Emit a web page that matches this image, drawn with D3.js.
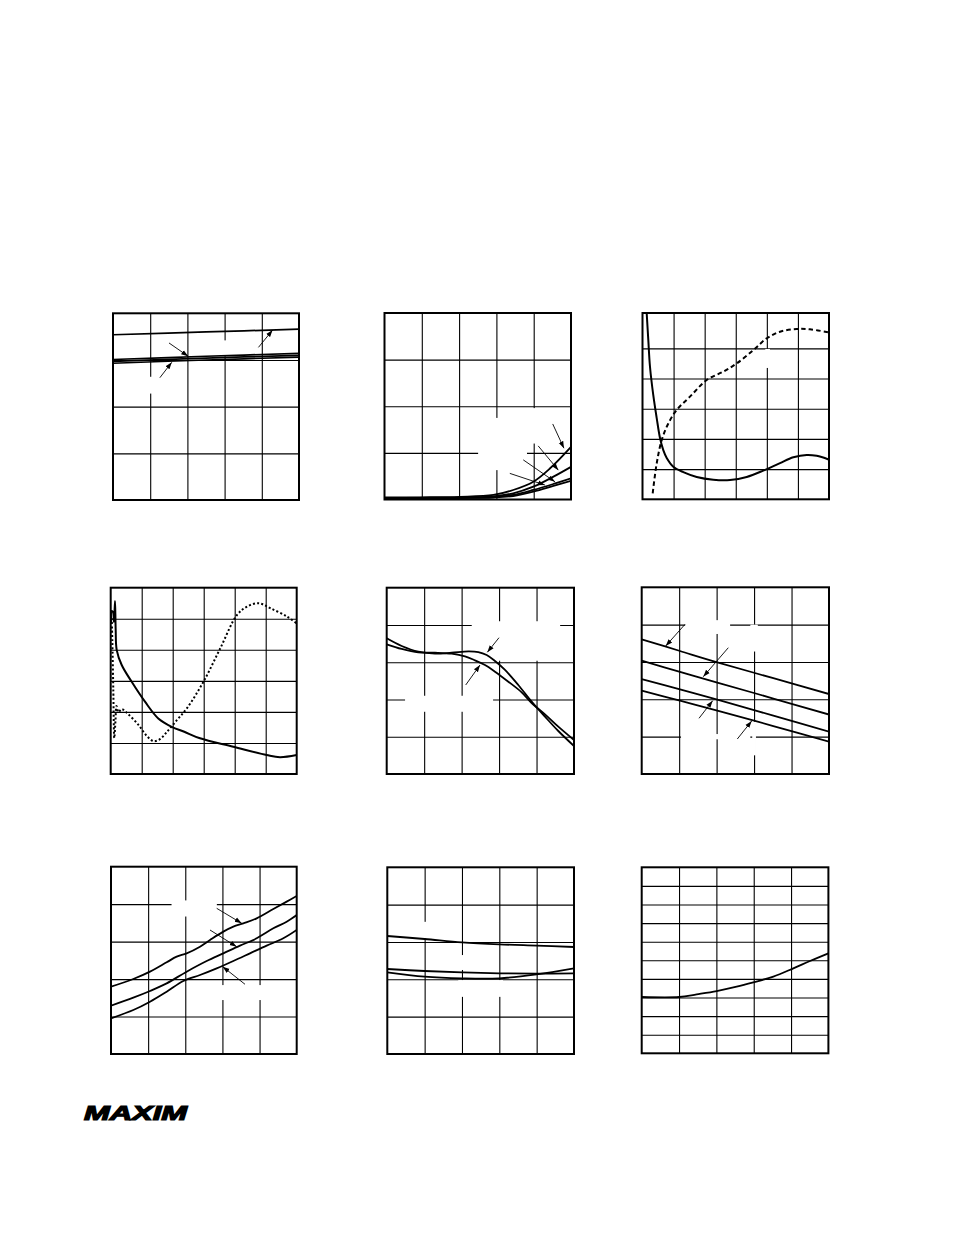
<!DOCTYPE html>
<html>
<head>
<meta charset="utf-8">
<script src="https://cdn.jsdelivr.net/npm/d3@7"></script>
<style>
  html, body { margin: 0; padding: 0; background: #fff; }
  svg { display: block; }
</style>
</head>
<body>
<svg id="page" width="954" height="1235"></svg>
<script>
// ---------- DATA (grid units: x = column index, y = row index from bottom) ----------
// Panel 1
const p1Top = [[0, 3.54], [2.5, 3.60], [5, 3.66]];
const p1A   = [[0, 3.01], [2.5, 3.08], [5, 3.14]];
const p1B   = [[0, 2.97], [2.5, 3.04], [5, 3.10]];
const p1C   = [[0, 2.93], [2.5, 3.00], [5, 3.06]];
const p1Arrows = [[[1.505, 3.365], [2.02, 3.08]], [[1.26, 2.62], [1.58, 2.95]], [[3.91, 3.27], [4.29, 3.64]]];

// Panel 2
const p2S1 = [[0, 0.043], [0.95, 0.047], [2.02, 0.058], [2.92, 0.097], [3.45, 0.204], [3.99, 0.382], [4.44, 0.67], [5.0, 1.13]];
const p2S2 = [[0, 0.036], [2.02, 0.043], [2.92, 0.069], [3.45, 0.133], [3.99, 0.275], [4.53, 0.49], [5.0, 0.70]];
const p2S3 = [[0, 0.032], [2.02, 0.036], [2.92, 0.054], [3.45, 0.097], [3.99, 0.204], [4.53, 0.333], [5.0, 0.455]];
const p2S4 = [[0, 0.028], [2.02, 0.032], [2.92, 0.043], [3.45, 0.075], [3.99, 0.167], [4.53, 0.29], [5.0, 0.40]];
const p2Arrows = [[[4.51, 1.62], [4.81, 1.10]], [[4.12, 1.15], [4.66, 0.63]], [[3.72, 0.85], [4.57, 0.38]], [[3.36, 0.56], [4.30, 0.31]]];

// Panel 3
const p3Solid = [[0.135, 6.16], [0.187, 5.27], [0.241, 4.39], [0.347, 3.45], [0.457, 2.69], [0.563, 2.03], [0.669, 1.63], [0.779, 1.37], [0.991, 1.08], [1.313, 0.90], [1.744, 0.74], [2.278, 0.65], [2.815, 0.64], [3.353, 0.74], [3.887, 0.95], [4.424, 1.20], [4.852, 1.39], [5.283, 1.47], [5.605, 1.44], [5.985, 1.32]];
const p3Dashed = [[0.328, 0.20], [0.457, 1.19], [0.618, 1.96], [0.830, 2.51], [1.100, 2.96], [1.528, 3.40], [2.066, 3.95], [2.600, 4.23], [3.031, 4.50], [3.565, 4.94], [3.996, 5.33], [4.424, 5.55], [4.961, 5.64], [5.389, 5.63], [5.985, 5.53]];

// Panel 4
const p4Solid = [[0.016, 4.83], [0.032, 5.25], [0.074, 5.22], [0.106, 4.90], [0.139, 5.57], [0.161, 4.64], [0.194, 3.99], [0.355, 3.51], [0.677, 2.97], [1.106, 2.33], [1.535, 1.79], [1.968, 1.52], [2.374, 1.36], [2.881, 1.15], [3.955, 0.88], [5.032, 0.61], [5.461, 0.54], [6.0, 0.61]];
const p4Dotted = [[0.032, 5.02], [0.052, 4.31], [0.084, 2.71], [0.116, 1.16], [0.155, 1.74], [0.187, 2.19], [0.252, 1.99], [0.355, 2.09], [0.561, 1.93], [0.897, 1.58], [1.168, 1.22], [1.384, 1.06], [1.6, 1.13], [1.816, 1.36], [2.139, 1.74], [2.461, 2.12], [2.997, 2.98], [3.535, 4.05], [4.074, 5.12], [4.397, 5.39], [4.771, 5.50], [5.148, 5.34], [5.687, 5.07], [6.0, 4.85]];

// Panel 5
const p5A = [[0, 3.641], [0.40, 3.435], [0.844, 3.283], [1.289, 3.230], [1.734, 3.256], [2.179, 3.292], [2.446, 3.274], [2.669, 3.194], [2.891, 3.033], [3.158, 2.792], [3.513, 2.389], [3.870, 1.942], [4.226, 1.539], [4.581, 1.154], [5.0, 0.751]];
const p5B = [[0, 3.480], [0.40, 3.355], [0.844, 3.265], [1.289, 3.256], [1.734, 3.229], [2.090, 3.158], [2.357, 3.051], [2.624, 2.925], [2.891, 2.747], [3.247, 2.478], [3.603, 2.192], [3.870, 1.906], [4.226, 1.601], [4.581, 1.270], [5.0, 0.912]];
const p5Arrows = [[[2.998, 3.658], [2.686, 3.266]], [[2.109, 2.389], [2.491, 2.925]]];

// Panel 6
const p6L1 = [[0, 3.607], [1.022, 3.294], [2.019, 2.990], [3.514, 2.566], [5.0, 2.142]];
const p6L2 = [[0, 3.035], [1.022, 2.736], [2.019, 2.450], [3.514, 2.021], [5.0, 1.592]];
const p6L3 = [[0, 2.544], [1.022, 2.267], [2.019, 1.990], [3.514, 1.562], [5.0, 1.133]];
const p6L4 = [[0, 2.232], [1.022, 1.964], [2.019, 1.696], [3.514, 1.285], [5.0, 0.866]];
const p6Arrows = [[[1.156, 4.009], [0.641, 3.428]], [[2.312, 3.382], [1.644, 2.606]], [[1.530, 1.492], [1.895, 1.963]], [[2.552, 0.937], [2.936, 1.419]]];

// Panel 7
const p7L1 = [[0, 1.797], [0.601, 2.002], [1.050, 2.198], [1.499, 2.447], [1.768, 2.598], [2.037, 2.687], [2.396, 2.865], [2.666, 3.043], [3.025, 3.266], [3.294, 3.399], [3.563, 3.488], [3.922, 3.622], [4.371, 3.871], [4.730, 4.067], [5.0, 4.218]];
const p7L2 = [[0, 1.290], [0.601, 1.503], [1.050, 1.681], [1.499, 1.886], [2.037, 2.198], [2.576, 2.482], [3.025, 2.687], [3.473, 2.892], [3.922, 3.088], [4.371, 3.355], [4.730, 3.533], [5.0, 3.711]];
const p7L3 = [[0, 0.952], [0.601, 1.175], [1.050, 1.397], [1.499, 1.664], [1.948, 1.949], [2.396, 2.109], [2.845, 2.287], [3.294, 2.482], [3.743, 2.687], [4.191, 2.892], [4.640, 3.088], [5.0, 3.311]];
const p7Arrows = [[[2.846, 3.889], [3.519, 3.489]], [[2.666, 3.310], [3.384, 2.864]], [[3.608, 1.861], [3.008, 2.331]]];

// Panel 8
const p8L1 = [[0, 3.160], [1, 3.080], [2, 2.991], [3, 2.937], [4, 2.902], [5, 2.866]];
const p8L2 = [[0, 2.276], [1, 2.223], [2, 2.187], [3, 2.160], [4, 2.151], [5, 2.160]];
const p8L3 = [[0, 2.187], [1, 2.071], [2, 2.026], [3, 2.026], [4, 2.133], [5, 2.294]];

// Panel 9
const p9L = [[0, 3.027], [1.009, 3.027], [1.472, 3.170], [2.008, 3.349], [2.543, 3.582], [2.990, 3.815], [3.525, 4.120], [4.061, 4.568], [4.507, 4.962], [5.0, 5.374]];

const logoText = "MAXIM";

// ---------- LAYOUT / STYLE ----------
const svg = d3.select("#page");
const defs = svg.append("defs");
defs.append("marker")
  .attr("id", "arr").attr("viewBox", "0 0 10 10").attr("refX", 10).attr("refY", 5)
  .attr("markerWidth", 7).attr("markerHeight", 7).attr("markerUnits", "userSpaceOnUse")
  .attr("orient", "auto")
  .append("path").attr("d", "M0,1.5 L10,5 L0,8.5 Z").attr("fill", "#000");

const panels = [
  {x: 113,   y: 313.3, w: 186,   h: 186.7, cols: 5, rows: 4,
   solid: [p1Top, p1A, p1B, p1C], arrows: p1Arrows, sw: 1.7,
   masks: [[0.9, 1.15, 2.28, 2.64], [2.88, 3.17, 3.08, 3.42]]},
  {x: 384.5, y: 313,   w: 186.5, h: 186.5, cols: 5, rows: 4,
   solid: [p2S1, p2S2, p2S3, p2S4], arrows: p2Arrows, sw: 1.8,
   masks: [[2.51, 3.82, 0.63, 1.12], [3.95, 4.05, 1.2, 1.96], [2.95, 3.05, 1.1, 1.75]]},
  {x: 642.5, y: 313,   w: 186.5, h: 186.3, cols: 6, rows: 6.17, yTicks: [1, 2, 3, 4, 5],
   solid: [p3Solid], dashed: [p3Dashed], sw: 2,
   masks: [[3.95, 4.1, 4.35, 4.98]]},
  {x: 110.7, y: 587.7, w: 186,   h: 186.3, cols: 6, rows: 6,
   solid: [p4Solid], dotted: [p4Dotted], sw: 2, masks: []},
  {x: 386.7, y: 587.7, w: 187.3, h: 186.3, cols: 5, rows: 5,
   solid: [p5A, p5B], arrows: p5Arrows, sw: 1.8,
   masks: [[2.27, 4.63, 3.04, 4.1], [0.49, 2.84, 1.67, 2.1]]},
  {x: 641.7, y: 587.3, w: 187.3, h: 186.7, cols: 5, rows: 5,
   solid: [p6L1, p6L2, p6L3, p6L4], arrows: p6Arrows, sw: 1.8,
   masks: [[1.16, 2.36, 3.75, 4.12], [2.9, 3.1, 3.28, 4.0], [1.05, 2.9, 0.93, 1.07], [2.95, 3.05, 0.5, 1.4]]},
  {x: 111,   y: 866.7, w: 185.7, h: 187.3, cols: 5, rows: 5,
   solid: [p7L1, p7L2, p7L3], arrows: p7Arrows, sw: 1.8,
   masks: [[1.63, 2.85, 3.67, 4.1], [2.9, 4.2, 1.44, 1.84]]},
  {x: 387.3, y: 867.3, w: 186.7, h: 186.7, cols: 5, rows: 5,
   solid: [p8L1, p8L2, p8L3], sw: 1.8,
   masks: [[0.95, 1.05, 3.1, 3.54], [1.9, 3.1, 1.53, 1.98], [1.95, 2.05, 2.25, 2.65]]},
  {x: 641.7, y: 867.3, w: 186.7, h: 186,   cols: 5, rows: 10,
   solid: [p9L], sw: 1.8, masks: []}
];

panels.forEach(p => {
  const g = svg.append("g");
  const xs = d3.scaleLinear().domain([0, p.cols]).range([p.x, p.x + p.w]);
  const ys = d3.scaleLinear().domain([0, p.rows]).range([p.y + p.h, p.y]);
  const xTicks = d3.range(1, p.cols);
  const yTicks = p.yTicks || d3.range(1, Math.round(p.rows));

  // grid via axes
  const gx = g.append("g").attr("transform", `translate(0,${p.y + p.h})`)
    .call(d3.axisBottom(xs).tickValues(xTicks).tickFormat("").tickSize(-p.h).tickSizeOuter(0));
  const gy = g.append("g").attr("transform", `translate(${p.x},0)`)
    .call(d3.axisLeft(ys).tickValues(yTicks).tickFormat("").tickSize(-p.w).tickSizeOuter(0));
  [gx, gy].forEach(a => {
    a.select(".domain").remove();
    a.selectAll("line").attr("stroke", "#000").attr("stroke-width", 1.1);
  });

  // white blanks where the original labels sat
  (p.masks || []).forEach(m => {
    g.append("rect")
      .attr("x", xs(m[0])).attr("y", ys(m[3]))
      .attr("width", xs(m[1]) - xs(m[0])).attr("height", ys(m[2]) - ys(m[3]))
      .attr("fill", "#fff");
  });

  const clipId = "clip" + Math.round(p.x) + "_" + Math.round(p.y);
  defs.append("clipPath").attr("id", clipId).append("rect")
    .attr("x", p.x).attr("y", p.y).attr("width", p.w).attr("height", p.h);

  const line = d3.line().x(d => xs(d[0])).y(d => ys(d[1])).curve(d3.curveCatmullRom.alpha(0.5));
  const cg = g.append("g").attr("clip-path", `url(#${clipId})`);
  (p.solid || []).forEach(s => {
    cg.append("path").attr("d", line(s)).attr("fill", "none").attr("stroke", "#000")
      .attr("stroke-width", p.sw).attr("stroke-linejoin", "round");
  });
  (p.dashed || []).forEach(s => {
    cg.append("path").attr("d", line(s)).attr("fill", "none").attr("stroke", "#000")
      .attr("stroke-width", p.sw).attr("stroke-dasharray", "4.5,3");
  });
  (p.dotted || []).forEach(s => {
    cg.append("path").attr("d", line(s)).attr("fill", "none").attr("stroke", "#000")
      .attr("stroke-width", 2).attr("stroke-dasharray", "2,2.2");
  });

  (p.arrows || []).forEach(a => {
    g.append("line")
      .attr("x1", xs(a[0][0])).attr("y1", ys(a[0][1]))
      .attr("x2", xs(a[1][0])).attr("y2", ys(a[1][1]))
      .attr("stroke", "#000").attr("stroke-width", 0.9)
      .attr("marker-end", "url(#arr)");
  });

  // frame
  g.append("rect").attr("x", p.x).attr("y", p.y).attr("width", p.w).attr("height", p.h)
    .attr("fill", "none").attr("stroke", "#000").attr("stroke-width", 2);
});

// logo
svg.append("text")
  .attr("x", 84).attr("y", 1120)
  .attr("font-family", "Liberation Sans, Arial, sans-serif")
  .attr("font-weight", 900).attr("font-style", "italic")
  .attr("font-size", 20)
  .attr("textLength", 103).attr("lengthAdjust", "spacingAndGlyphs")
  .attr("fill", "#000").attr("stroke", "#000").attr("stroke-width", 1.2)
  .attr("stroke-linejoin", "miter")
  .text(logoText);
</script>
</body>
</html>
